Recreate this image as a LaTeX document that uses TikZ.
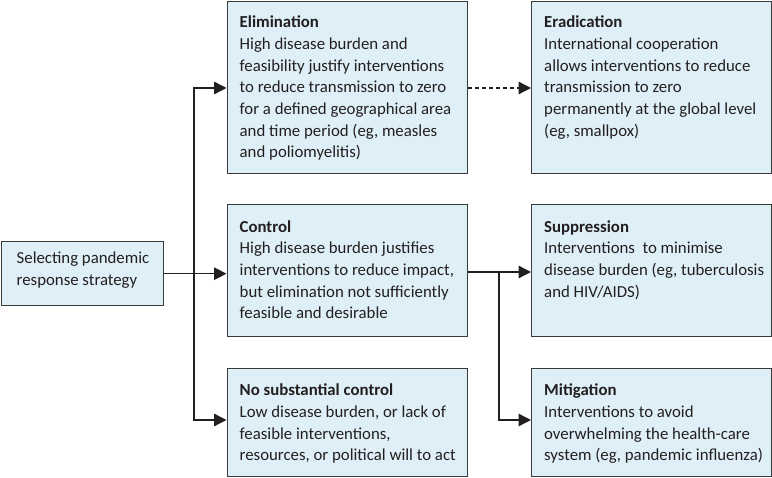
\documentclass[tikz,border=0pt]{standalone}
\usepackage{fontspec}
\setmainfont{Carlito}
\usetikzlibrary{arrows.meta}
\definecolor{boxfill}{RGB}{223,239,247}
\definecolor{boxline}{RGB}{58,58,58}
\definecolor{txt}{RGB}{35,31,32}
\newcommand{\bxt}[5]{\parbox[c][#2][t]{#1}{\leftskip=#3\rightskip=-60pt plus 1fil\parindent=0pt\fontsize{16.8pt}{21.7pt}\selectfont\rule{0pt}{#4}#5}}
\tikzset{
  box/.style={draw=boxline, fill=boxfill, line width=1.4pt, inner sep=0pt, anchor=north west, text=txt},
  conn/.style={draw=txt, line width=1.4pt},
  arr/.style={conn, -{Triangle[length=12.5pt,width=12.5pt]}},
  darr/.style={conn, {Triangle[length=12.5pt,width=12.5pt]}-{Triangle[length=12.5pt,width=12.5pt]}},
}
\begin{document}
\begin{tikzpicture}[x=1pt,y=1pt]
\useasboundingbox (0,0) rectangle (772,-478);
\node[box] (sel) at (1,-241) {\bxt{162pt}{64pt}{15pt}{22pt}{Selecting pandemic\\response strategy}};
\node[box] (elim) at (226.5,-1) {\bxt{240.5pt}{172pt}{12.5pt}{26pt}{\textbf{Elimination}\\High disease burden and\\feasibility justify interventions\\to reduce transmission to zero\\for a defined geographical area\\and time period (eg, measles\\and poliomyelitis)}};
\node[box] (erad) at (531,-1) {\bxt{240pt}{172pt}{12.5pt}{26pt}{\textbf{Eradication}\\International cooperation\\allows interventions to reduce\\transmission to zero\\permanently at the global level\\(eg, smallpox)}};
\node[box] (ctrl) at (226.5,-204) {\bxt{240.5pt}{132pt}{12.5pt}{27.5pt}{\textbf{Control}\\High disease burden justifies\\interventions to reduce impact,\\but elimination not sufficiently\\feasible and desirable}};
\node[box] (supp) at (531,-204) {\bxt{240pt}{132pt}{12.5pt}{27.5pt}{\textbf{Suppression}\\Interventions\ \ to minimise\\disease burden (eg, tuberculosis\\and HIV/AIDS)}};
\node[box] (nsc) at (226.5,-368) {\bxt{240.5pt}{108pt}{12.5pt}{27pt}{\textbf{No substantial control}\\Low disease burden, or lack of\\feasible interventions,\\resources, or political will to act}};
\node[box] (miti) at (531,-368) {\bxt{240pt}{108pt}{12.5pt}{27pt}{\textbf{Mitigation}\\Interventions to avoid\\overwhelming the health-care\\system (eg, pandemic influenza)}};
\coordinate (jtop) at (194,-88);
\coordinate (jbot) at (194,-420);
\coordinate (b) at (499,-272);
\coordinate (bbot) at (499,-420);
\draw[arr] (sel.east) -- (sel.east -| ctrl.west);
\draw[darr] (elim.west |- jtop) -- (jtop) -- (jbot) -- (nsc.west |- jbot);
\draw[arr, dashed, dash pattern=on 4pt off 3pt] (elim.east |- jtop) -- (erad.west |- jtop);
\draw[arr] (ctrl.east |- b) -- (supp.west |- b);
\draw[arr] (b) -- (bbot) -- (miti.west |- bbot);
\end{tikzpicture}
\end{document}
